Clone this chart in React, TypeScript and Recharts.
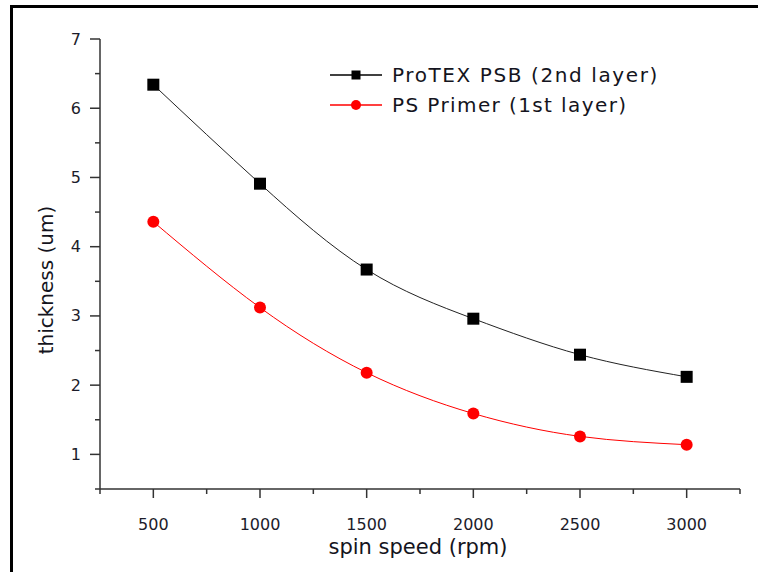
import { LineChart, Line, XAxis, YAxis, Legend } from "recharts";

const speeds = [500, 1000, 1500, 2000, 2500, 3000];
const protexPsb = [6.34, 4.91, 3.67, 2.96, 2.44, 2.12];
const psPrimer = [4.36, 3.12, 2.18, 1.59, 1.26, 1.14];

const xTicks = [250, 500, 750, 1000, 1250, 1500, 1750, 2000, 2250, 2500, 2750, 3000, 3250];
const yTicks = [0.5, 1, 1.5, 2, 2.5, 3, 3.5, 4, 4.5, 5, 5.5, 6, 6.5, 7];

const seriesNames = ["ProTEX PSB (2nd layer)", "PS Primer (1st layer)"];

const data = speeds.map((s, i) => ({ speed: s, psb: protexPsb[i], primer: psPrimer[i] }));

const FONT = "'DejaVu Sans', Verdana, sans-serif";
const AXIS = "#333";

const XTick = (props: any) => {
  const { x, y, payload } = props;
  const major = payload.value % 500 === 0;
  return (
    <g>
      <line x1={x} x2={x} y1={y} y2={y + (major ? 9 : 5)} stroke={AXIS} strokeWidth={1.5} />
      {major && (
        <text x={x} y={y + 35} textAnchor="middle" dominantBaseline="central"
          fontFamily={FONT} fontSize={16} fill="#1c1c2a">
          {payload.value}
        </text>
      )}
    </g>
  );
};

const YTick = (props: any) => {
  const { x, y, payload } = props;
  const major = Number.isInteger(payload.value);
  return (
    <g>
      <line x1={x} x2={x - (major ? 10 : 5)} y1={y} y2={y} stroke={AXIS} strokeWidth={1.5} />
      {major && (
        <text x={x - 19} y={y} textAnchor="end" dominantBaseline="central"
          fontFamily={FONT} fontSize={16} fill="#1c1c2a">
          {payload.value}
        </text>
      )}
    </g>
  );
};

const Square = (props: any) => {
  const { cx, cy } = props;
  if (cx == null || cy == null) return null;
  return <rect x={cx - 6} y={cy - 6} width={12} height={12} fill="#000" />;
};

const LegendBox = () => (
  <svg width={380} height={64}>
    <line x1={10} x2={62} y1={17} y2={17} stroke="#000" strokeWidth={1.5} />
    <rect x={31.5} y={12.5} width={9} height={9} fill="#000" />
    <text x={72} y={17} dominantBaseline="central" fontFamily={FONT} fontSize={20}
      letterSpacing={1.6} fill="#141420">{seriesNames[0]}</text>
    <line x1={10} x2={62} y1={47} y2={47} stroke="#ff0000" strokeWidth={1.5} />
    <circle cx={36} cy={47} r={5} fill="#ff0000" />
    <text x={72} y={47} dominantBaseline="central" fontFamily={FONT} fontSize={20}
      letterSpacing={1.4} fill="#141420">{seriesNames[1]}</text>
  </svg>
);

export default function App() {
  return (
    <div style={{ position: "fixed", left: 0, top: 0, width: 758, height: 572, background: "#fff" }}>
      <div style={{ position: "absolute", left: 10, top: 5, right: 0, bottom: 0,
        borderTop: "3px solid #000", borderLeft: "3px solid #000" }} />
      <div style={{ position: "absolute", left: 0, top: 0 }}>
        <LineChart width={758} height={572} data={data}
          margin={{ top: 39, right: 18, bottom: 0, left: 0 }}>
          <XAxis dataKey="speed" type="number" domain={[250, 3250]} ticks={xTicks}
            interval={0} tickSize={0} tickMargin={0} tickLine={false}
            axisLine={{ stroke: AXIS, strokeWidth: 1.5 }} tick={<XTick />} height={83}
            label={{
              content: (p: any) => {
                const vb = p.viewBox;
                return (
                  <text x={vb.x + vb.width / 2 - 2} y={vb.y + 58} textAnchor="middle"
                    dominantBaseline="central" fontFamily={FONT} fontSize={21} fill="#141420">
                    spin speed (rpm)
                  </text>
                );
              },
            }} />
          <YAxis type="number" domain={[0.5, 7]} ticks={yTicks} interval={0}
            tickSize={0} tickMargin={0} tickLine={false} width={100}
            axisLine={{ stroke: AXIS, strokeWidth: 1.5 }} tick={<YTick />}
            label={{
              content: (p: any) => {
                const vb = p.viewBox;
                const cx = vb.x + 46;
                const cy = vb.y + vb.height / 2 + 16;
                return (
                  <text x={cx} y={cy} transform={`rotate(-90 ${cx} ${cy})`} textAnchor="middle"
                    dominantBaseline="central" fontFamily={FONT} fontSize={20} fill="#141420">
                    thickness (um)
                  </text>
                );
              },
            }} />
          <Legend layout="vertical" align="center" verticalAlign="middle"
            wrapperStyle={{ left: 320, top: 58, width: 380 }} content={<LegendBox />} />
          <Line type="natural" dataKey="psb" name={seriesNames[0]} stroke="#222" strokeWidth={1}
            dot={<Square />} activeDot={false} isAnimationActive={false} />
          <Line type="natural" dataKey="primer" name={seriesNames[1]} stroke="#ff0000" strokeWidth={1}
            dot={{ r: 6, fill: "#ff0000", stroke: "none" }} activeDot={false} isAnimationActive={false} />
        </LineChart>
      </div>
    </div>
  );
}
